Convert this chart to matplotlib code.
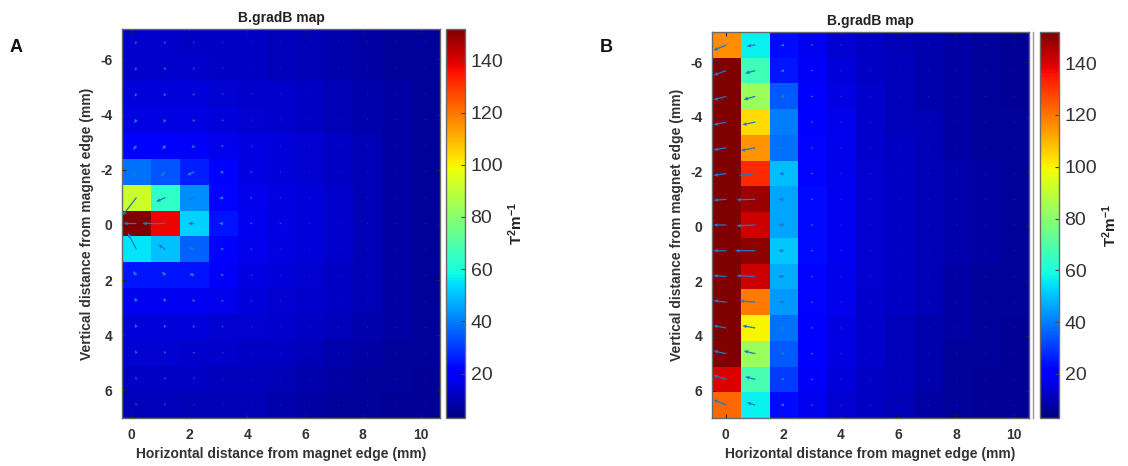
import numpy as np
import matplotlib
matplotlib.use("Agg")
import matplotlib.pyplot as plt
from matplotlib.lines import Line2D

plt.rcParams['font.family'] = ['Liberation Sans', 'DejaVu Sans']
plt.rcParams['axes.unicode_minus'] = False
plt.rcParams['mathtext.fontset'] = 'custom'
plt.rcParams['mathtext.rm'] = 'Liberation Sans'
plt.rcParams['mathtext.bf'] = 'Liberation Sans:bold'

# ---------------- data ----------------
title = "B.gradB map"
xlabel = "Horizontal distance from magnet edge (mm)"
ylabel = "Vertical distance from magnet edge (mm)"
cbar_label = r"$\mathbf{T^{2}m^{-1}}$"
xticks = [0, 2, 4, 6, 8, 10]
yticks = [-6, -4, -2, 0, 2, 4, 6]
cbar_ticks = [20, 40, 60, 80, 100, 120, 140]
clim = (3, 152)

# Panel A: B.gradB magnitude, 15 rows (top y=-7 to bottom y=7) x 11 columns (x=0..10)
gradA = [
    [13, 13, 12, 12, 12, 11, 10, 9, 8, 7, 7],
    [13, 13, 13, 12, 12, 11, 10, 9, 8, 7, 7],
    [15, 15, 15, 14, 13, 13, 12, 10, 9, 8, 7],
    [16, 16, 16, 15, 14, 13, 12, 10, 9, 8, 7],
    [20, 20, 19, 17, 16, 15, 14, 12, 10, 8, 7],
    [38, 34, 26, 20, 16, 15, 14, 12, 10, 8, 7],
    [92, 64, 42, 22, 17, 16, 15, 13, 10, 8, 7],
    [152, 138, 52, 24, 18, 16, 15, 13, 10, 8, 7],
    [55, 50, 36, 21, 17, 16, 15, 13, 10, 8, 7],
    [25, 25, 24, 19, 16, 15, 14, 12, 10, 8, 7],
    [18, 18, 18, 17, 15, 14, 13, 12, 10, 8, 7],
    [15, 15, 15, 14, 14, 13, 12, 11, 9, 8, 7],
    [14, 14, 13, 13, 12, 12, 11, 9, 8, 7, 7],
    [12, 12, 12, 11, 11, 10, 9, 8, 7, 7, 6],
    [11, 11, 10, 10, 10, 9, 8, 7, 7, 6, 6],
]
uA = [
    [-0.06, -0.06, -0.05, -0.04, -0.03, -0.03, -0.02, -0.02, -0.02, -0.02, -0.02],
    [-0.06, -0.06, -0.05, -0.04, -0.03, -0.03, -0.02, -0.02, -0.02, -0.02, -0.02],
    [-0.07, -0.07, -0.06, -0.05, -0.04, -0.03, -0.03, -0.02, -0.02, -0.02, -0.02],
    [-0.09, -0.08, -0.07, -0.06, -0.04, -0.03, -0.03, -0.02, -0.02, -0.02, -0.02],
    [-0.12, -0.11, -0.10, -0.08, -0.05, -0.04, -0.03, -0.02, -0.02, -0.02, -0.02],
    [-0.15, -0.17, -0.25, -0.12, -0.07, -0.05, -0.03, -0.03, -0.02, -0.02, -0.02],
    [-0.48, -0.32, -0.25, -0.15, -0.08, -0.05, -0.04, -0.03, -0.02, -0.02, -0.02],
    [-0.45, -0.80, -0.22, -0.15, -0.08, -0.06, -0.04, -0.03, -0.02, -0.02, -0.02],
    [-0.30, -0.25, -0.20, -0.10, -0.07, -0.05, -0.04, -0.03, -0.02, -0.02, -0.02],
    [-0.12, -0.12, -0.18, -0.10, -0.06, -0.04, -0.03, -0.02, -0.02, -0.02, -0.02],
    [-0.08, -0.08, -0.08, -0.07, -0.05, -0.04, -0.03, -0.02, -0.02, -0.02, -0.02],
    [-0.06, -0.06, -0.06, -0.05, -0.04, -0.03, -0.02, -0.02, -0.02, -0.02, -0.02],
    [-0.05, -0.05, -0.05, -0.04, -0.03, -0.03, -0.02, -0.02, -0.02, -0.02, -0.02],
    [-0.04, -0.04, -0.04, -0.03, -0.03, -0.02, -0.02, -0.02, -0.02, -0.02, -0.02],
    [-0.04, -0.04, -0.03, -0.03, -0.02, -0.02, -0.02, -0.02, -0.02, -0.02, -0.02],
]
vA = [
    [0.08, 0.07, 0.05, 0.03, 0.02, 0.01, 0.01, 0.01, 0, 0, 0],
    [0.09, 0.08, 0.06, 0.03, 0.02, 0.01, 0.01, 0.01, 0, 0, 0],
    [0.10, 0.09, 0.07, 0.04, 0.03, 0.02, 0.01, 0.01, 0, 0, 0],
    [0.12, 0.11, 0.08, 0.05, 0.03, 0.02, 0.01, 0.01, 0, 0, 0],
    [0.16, 0.14, 0.09, 0.05, 0.03, 0.02, 0.01, 0.01, 0, 0, 0],
    [0.20, 0.18, 0.14, 0.06, 0.03, 0.02, 0.01, 0.01, 0, 0, 0],
    [0.65, 0.15, 0.07, 0.04, 0.02, 0.01, 0.01, 0, 0, 0, 0],
    [0, 0, 0, 0, 0, 0, 0, 0, 0, 0, 0],
    [-0.60, -0.18, -0.06, -0.04, -0.02, -0.01, -0.01, 0, 0, 0, 0],
    [-0.16, -0.14, -0.06, -0.04, -0.02, -0.01, -0.01, 0, 0, 0, 0],
    [-0.14, -0.12, -0.08, -0.05, -0.03, -0.01, -0.01, 0, 0, 0, 0],
    [-0.12, -0.10, -0.08, -0.05, -0.02, -0.01, -0.01, 0, 0, 0, 0],
    [-0.10, -0.08, -0.06, -0.04, -0.02, -0.01, 0, 0, 0, 0, 0],
    [-0.08, -0.07, -0.05, -0.03, -0.02, -0.01, 0, 0, 0, 0, 0],
    [-0.07, -0.06, -0.04, -0.03, -0.01, 0, 0, 0, 0, 0, 0],
]

# Panel B: stored column by column (x=0..10), each 15 values from y=-7 (top) to y=7 (bottom)
gradB_cols = [
    [116, 152, 152, 152, 152, 152, 152, 152, 152, 152, 152, 152, 152, 140, 122],
    [57, 67, 83, 104, 115, 132, 148, 142, 150, 142, 119, 100, 83, 68, 57],
    [23, 25, 35, 40, 38, 49, 46, 46, 51, 47, 44, 38, 35, 30, 23],
    [18, 19, 20, 21, 22, 22, 23, 23, 23, 22, 22, 21, 20, 19, 18],
    [14, 15, 16, 17, 17, 17, 18, 18, 18, 17, 17, 16, 16, 15, 14],
    [12, 12, 13, 13, 13, 14, 14, 14, 14, 14, 13, 13, 13, 12, 12],
    [10, 11, 11, 11, 12, 12, 12, 12, 12, 12, 12, 11, 11, 11, 10],
    [9, 9, 9, 10, 10, 10, 10, 10, 10, 10, 10, 9, 9, 9, 8],
    [8, 8, 8, 8, 8, 9, 9, 9, 9, 8, 8, 8, 7, 7, 7],
    [7, 7, 7, 7, 7, 8, 8, 8, 8, 7, 7, 7, 7, 6, 6],
    [6, 6, 6, 7, 7, 7, 7, 7, 7, 7, 7, 6, 6, 6, 6],
]
uB_cols = [
    [-0.45] * 15,
    [-0.30, -0.35, -0.40, -0.45, -0.50, -0.55, -0.65, -0.65, -0.70, -0.65, -0.55, -0.45, -0.40, -0.35, -0.30],
    [-0.12, -0.13, -0.14, -0.15, -0.16, -0.18, -0.20, -0.20, -0.20, -0.20, -0.18, -0.16, -0.14, -0.13, -0.12],
    [-0.08] * 15,
    [-0.05] * 15,
    [-0.04] * 15,
    [-0.03] * 15,
    [-0.02] * 15,
    [-0.02] * 15,
    [-0.02] * 15,
    [-0.02] * 15,
]
vB_cols = [
    [0.20, 0.17, 0.13, 0.10, 0.08, 0.07, 0.04, 0.0, 0.0, -0.03, -0.06, -0.08, -0.10, -0.15, -0.20],
    [0.05, 0.10, 0.12, 0.10, 0.10, 0.08, 0.02, 0.03, 0.0, -0.03, -0.05, -0.08, -0.10, -0.10, -0.10],
    [0.03, 0.03, 0.03, 0.02, 0.02, 0.01, 0.01, 0.0, 0.0, 0.0, -0.01, -0.02, -0.02, -0.03, -0.03],
    [0.0] * 15,
    [0.0] * 15,
    [0.0] * 15,
    [0.0] * 15,
    [0.0] * 15,
    [0.0] * 15,
    [0.0] * 15,
    [0.0] * 15,
]

# ---------------- figure ----------------
W, H = 1128, 466
fig = plt.figure(figsize=(W / 100, H / 100), dpi=100)


def frac(x0, y0, x1, y1):
    return [x0 / W, 1 - y1 / H, (x1 - x0) / W, (y1 - y0) / H]


quiver_color = '#1e78c8'
spine_color = '#6a6a6a'


def panel(ax_rect, cax_rect, Z, U, V, xlo, letter, letter_x):
    ax = fig.add_axes(frac(*ax_rect))
    cax = fig.add_axes(frac(*cax_rect))
    Z = np.asarray(Z, float)
    U = np.asarray(U, float)
    V = np.asarray(V, float)
    ny, nx = Z.shape
    xe = np.linspace(xlo, xlo + nx, nx + 1)
    ye = np.linspace(-7.1, 7.0, ny + 1)
    xc = 0.5 * (xe[:-1] + xe[1:])
    yc = 0.5 * (ye[:-1] + ye[1:])
    mesh = ax.pcolormesh(xe, ye, Z, cmap='jet', vmin=clim[0], vmax=clim[1],
                         shading='flat', edgecolors='none')
    Xc, Yc = np.meshgrid(xc, yc)
    ax.quiver(Xc, Yc, U, V, angles='xy', scale_units='xy', scale=1,
              color=quiver_color, width=0.004, headwidth=3, headlength=3.5,
              headaxislength=3.2, minlength=0.6, zorder=3)
    ax.set_xlim(xe[0], xe[-1])
    ax.set_ylim(ye[-1], ye[0])
    ax.set_xticks(xticks)
    ax.set_yticks(yticks)
    ax.tick_params(direction='in', length=3, width=0.8, top=True, right=True,
                   labelsize=10, colors='#222222', pad=7)
    for lab in ax.get_xticklabels() + ax.get_yticklabels():
        lab.set_fontweight('bold')
        lab.set_color('#333333')
    for s in ax.spines.values():
        s.set_color(spine_color)
        s.set_linewidth(1.0)
    ax.set_title(title, fontsize=10, fontweight='bold', color='#222222', pad=5)
    ax.set_xlabel(xlabel, fontsize=10, fontweight='bold', color='#333333', labelpad=4)
    ax.set_ylabel(ylabel, fontsize=10, fontweight='bold', color='#333333', labelpad=4)

    cb = fig.colorbar(mesh, cax=cax, ticks=cbar_ticks)
    cb.outline.set_edgecolor(spine_color)
    cb.outline.set_linewidth(1.0)
    cax.tick_params(direction='in', length=3, width=0.8, colors='#444444', pad=4)
    for lab in cax.get_yticklabels():
        lab.set_fontsize(14)
        lab.set_color('#333333')
    cax.set_ylabel(cbar_label, fontsize=11, color='#222222', labelpad=2)
    fig.text(letter_x / W, 1 - 48 / H, letter, fontsize=13, fontweight='bold',
             ha='left', va='center', color='#111111')
    return ax, cax


gradB = np.asarray(gradB_cols).T
uB = np.asarray(uB_cols).T
vB = np.asarray(vB_cols).T

panel((122, 29, 440, 418), (446, 29, 465, 418), gradA, uA, vA, -0.33, 'A', 10)
axB, caxB = panel((712, 32, 1029, 418), (1040, 32, 1059, 418), gradB, uB, vB, -0.47, 'B', 600)

# faint double border right of panel B heat map
fig.add_artist(Line2D([1033 / W, 1033 / W], [1 - 418 / H, 1 - 32 / H],
                      color='#9a9a9a', lw=1.0, transform=fig.transFigure))

fig.savefig('out.png', dpi=100, facecolor='white')
